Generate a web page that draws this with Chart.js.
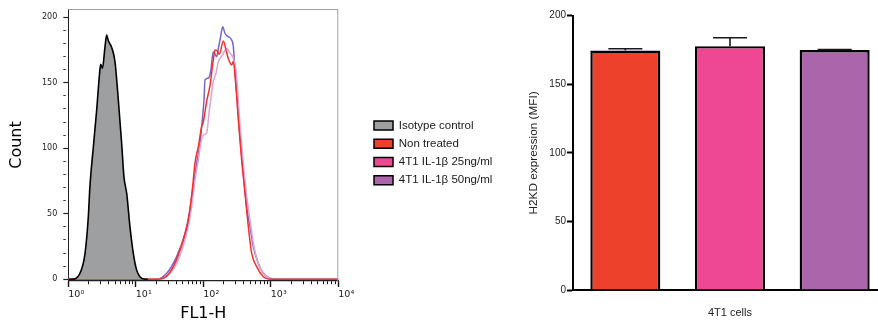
<!DOCTYPE html>
<html><head><meta charset="utf-8">
<script src="https://cdn.jsdelivr.net/npm/chart.js@4.4.1/dist/chart.umd.min.js"></script>
<style>
html,body{margin:0;padding:0;background:#fff;overflow:hidden;width:878px;height:326px;}
#h{position:absolute;left:0;top:0;width:360px;height:326px;}
#b{position:absolute;left:360px;top:0;width:527px;height:326px;}
</style></head><body>
<div id="h"><canvas id="c1" width="360" height="326"></canvas></div>
<div id="b"><canvas id="c2" width="527" height="326"></canvas></div>
<script>
// ---------- Histogram data (FL1-H value, count) ----------
const isoX = [1.0, 1.12, 1.49, 1.77, 1.98, 2.09, 2.35, 2.63, 2.88, 3.02, 3.2, 3.5, 3.7, 3.92, 4.39, 4.92, 5.51, 6.17, 6.68, 7.33, 8.2, 9.18, 10.3, 11.5, 13.7, 15];
const isoY = [0, 0, 4.6, 19.8, 47.8, 70.7, 101, 129, 154.7, 164, 161, 177.6, 186.5, 182, 177, 166, 136.8, 103.8, 78, 65.6, 40, 19.8, 7, 2, 0, 0];

const ntX = [1, 20, 25.6, 36.0, 50.6, 60.0, 69.5, 75.3, 84.4, 94.6, 100, 112, 125.7, 140.7, 149, 160, 172.7, 198, 216.8, 234, 263, 278.6, 301.3, 330.4, 369.8, 414.9, 464.5, 520.0, 616.6, 774.5, 972.6, 10000];
const ntY = [0, 0, 0.8, 9.7, 30.0, 45.3, 70.8, 88.6, 101.3, 116.6, 120, 135.6, 148, 167.5, 175, 174.6, 171.7, 181.9, 175.1, 168.7, 163.6, 166.2, 149.6, 121.7, 91.1, 65.7, 40.2, 19.9, 9.7, 2.0, 0, 0];

const x25 = [1, 20, 25.6, 40.3, 56.6, 67.3, 75.3, 84.4, 89, 100, 112, 122.8, 126, 140.7, 154.2, 167, 193.6, 222, 248.5, 278.6, 311.9, 342.0, 382.8, 428.5, 492.0, 563.6, 676.1, 869.0, 1089, 10000];
const y25 = [0, 0, 0.8, 12.2, 35.1, 55.5, 75.8, 91.1, 100, 110, 111.5, 129.3, 133, 151, 157.3, 166, 171.3, 176.3, 172.6, 168.7, 154.7, 124.2, 93.7, 68.2, 45.3, 24.9, 9.7, 2.0, 0, 0];

const x50 = [1, 20.4, 28.7, 40.3, 53.6, 63.5, 71.2, 79.8, 89.4, 94.6, 102.4, 106, 118.6, 128.5, 140.7, 158, 167.0, 180.7, 193.8, 209, 234, 263, 278.6, 295, 319.2, 349.9, 391.7, 438.5, 492.0, 550.8, 653.1, 774.5, 972.6, 1222, 10000];
const y50 = [0, 0, 4.6, 17.3, 35.1, 52.9, 70.8, 88.6, 103.8, 116.6, 136.9, 152.2, 153.5, 158.6, 173.7, 170, 176, 185.3, 192.8, 187.8, 185.2, 182.7, 177.6, 158.5, 136.9, 108.9, 80.9, 55.5, 40.2, 24.9, 12.2, 4.6, 0.8, 0, 0];

const histSeries = ['Isotype control', 'Non treated', '4T1 IL-1β 25ng/ml', '4T1 IL-1β 50ng/ml'];
const xDecades = [1, 10, 100, 1000, 10000];
const xTickLabels = ['10⁰', '10¹', '10²', '10³', '10⁴'];
const xMinorSteps = [1, 2, 3, 4, 5, 6, 7, 8, 9];
const yMajorTicks = [0, 50, 100, 150, 200];
const yMinorStep = 10;

// ---------- Bar chart data ----------
const barCategories = ['4T1 cells'];
const barSeries = ['Non treated', '4T1 IL-1β 25ng/ml', '4T1 IL-1β 50ng/ml'];
const barValues = [174.6, 177.8, 174.9];
const barErrors = [1.3, 6.1, 0.5];
const barTicks = [0, 50, 100, 150, 200];

// ---------- styles ----------
const lineColors = ['#000000', '#f2312b', '#e2a2d6', '#7b63c4'];
const legendColors = ['#9d9fa0', '#ee412b', '#ee4894', '#ab66ab'];
const barColors = ['#ee412b', '#ee4894', '#ab66ab'];

const zeroPad = s => { s.paddingLeft = 0; s.paddingRight = 0; s.paddingTop = 0; s.paddingBottom = 0; };
const pts = (xs, ys) => xs.map((x, i) => ({x: x, y: ys[i]}));

const xTickValues = [];
xDecades.forEach((d, i) => {
  if (i === xDecades.length - 1) { xTickValues.push(d); return; }
  xMinorSteps.forEach(m => xTickValues.push(d * m));
});
const yTickValues = [];
for (let v = 0; v <= 200; v += yMinorStep) yTickValues.push(v);

const frame = {
  id: 'frame',
  afterDraw(chart) {
    const {ctx, chartArea: a} = chart;
    ctx.save();
    ctx.strokeStyle = '#a0a0a0';
    ctx.lineWidth = 1;
    ctx.beginPath();
    ctx.moveTo(a.left, a.top + 0.5);
    ctx.lineTo(a.right - 0.5, a.top + 0.5);
    ctx.lineTo(a.right - 0.5, a.bottom);
    ctx.stroke();
    ctx.restore();
  }
};

const lineDs = (label, data, color, extra) => Object.assign({
  label: label, data: data, borderColor: color, borderWidth: 1.5,
  pointRadius: 0, fill: false, cubicInterpolationMode: 'monotone'
}, extra || {});

new Chart(document.getElementById('c1'), {
  type: 'line',
  data: {
    datasets: [
      lineDs(histSeries[0], pts(isoX, isoY), lineColors[0], {backgroundColor: '#9d9fa0', fill: 'origin', borderWidth: 1.6}),
      lineDs(histSeries[1], pts(ntX, ntY), lineColors[1]),
      lineDs(histSeries[2], pts(x25, y25), lineColors[2]),
      lineDs(histSeries[3], pts(x50, y50), lineColors[3])
    ]
  },
  options: {
    responsive: false, animation: false, events: [],
    layout: {padding: {left: 0, top: 9, right: 21.7, bottom: 0}},
    plugins: {legend: {display: false}, tooltip: {enabled: false}},
    scales: {
      x: {
        type: 'logarithmic', min: 1, max: 10000, position: 'bottom',
        afterBuildTicks: s => { s.ticks = xTickValues.map(v => ({value: v, major: xDecades.includes(v)})); },
        afterFit: s => { s.height = 45; zeroPad(s); },
        ticks: {
          autoSkip: false, maxRotation: 0, minRotation: 0, padding: 2, color: '#222', align: 'start',
          font: {family: 'DejaVu Sans', size: 9.5},
          callback: v => { const i = xDecades.indexOf(v); return i >= 0 ? xTickLabels[i] : ''; }
        },
        grid: {
          drawOnChartArea: false, drawTicks: true, tickLength: 6, tickColor: '#111',
          tickWidth: c => (c.tick && xDecades.includes(c.tick.value)) ? 1.4 : 1,
          tickBorderDash: c => (c.tick && (xDecades.includes(c.tick.value))) ? [] : [3, 20]
        },
        border: {color: '#222', width: 1.2},
        title: {display: true, text: 'FL1-H', color: '#000', font: {family: 'DejaVu Sans', size: 16}, padding: {top: 0, bottom: 3}}
      },
      y: {
        type: 'linear', min: -1.3, max: 206.3,
        afterBuildTicks: s => { s.ticks = yTickValues.map(v => ({value: v})); },
        afterFit: s => { s.width = 68.3; zeroPad(s); },
        ticks: {
          autoSkip: false, padding: 6, color: '#222',
          font: {family: 'DejaVu Sans', size: 8},
          callback: v => yMajorTicks.includes(v) ? String(v) : ''
        },
        grid: {
          drawOnChartArea: false, drawTicks: true, tickLength: 5, tickColor: '#222',
          tickWidth: c => (c.tick && yMajorTicks.includes(c.tick.value)) ? 1.2 : 0.9,
          tickBorderDash: c => (c.tick && yMajorTicks.includes(c.tick.value)) ? [] : [2.5, 20]
        },
        border: {color: '#222', width: 1},
        title: {display: true, text: 'Count', color: '#000', font: {family: 'DejaVu Sans', size: 16}, padding: {top: 7, bottom: 0}}
      }
    }
  },
  plugins: [frame]
});

const errBars = {
  id: 'errBars',
  afterDatasetsDraw(chart) {
    const y = chart.scales.y, ctx = chart.ctx;
    ctx.save();
    ctx.strokeStyle = '#1a1a1a';
    ctx.lineWidth = 1.6;
    chart.data.datasets.forEach((ds, i) => {
      chart.getDatasetMeta(i).data.forEach((bar, j) => {
        const top = y.getPixelForValue(ds.data[j] + barErrors[i]);
        const half = bar.width * 0.243;
        ctx.beginPath();
        ctx.moveTo(bar.x, bar.y);
        ctx.lineTo(bar.x, top);
        ctx.moveTo(bar.x - half, top);
        ctx.lineTo(bar.x + half, top);
        ctx.stroke();
      });
    });
    ctx.restore();
  }
};

const BAR_AREA_LEFT = 213;
const BAR_PAD_LEFT = 7.3;

new Chart(document.getElementById('c2'), {
  type: 'bar',
  data: {
    labels: barCategories,
    datasets: barSeries.map((name, i) => ({
      label: name, data: [barValues[i]], backgroundColor: barColors[i],
      borderColor: '#000', borderWidth: 2.4, borderSkipped: 'start',
      categoryPercentage: 1.0, barPercentage: 0.669
    }))
  },
  options: {
    responsive: false, animation: false, events: [],
    layout: {padding: {left: BAR_PAD_LEFT, top: 15.7, right: 0, bottom: 0}},
    plugins: {
      tooltip: {enabled: false},
      legend: {
        position: 'left', fullSize: false, align: 'center', onClick: null,
        labels: {
          boxWidth: 19, boxHeight: 9, padding: 6.7, color: '#1a1a1a',
          font: {family: 'Liberation Sans', size: 11.5},
          generateLabels: () => histSeries.map((t, i) => ({
            text: t, fillStyle: legendColors[i], strokeStyle: '#000', lineWidth: 1.5,
            hidden: false, index: i, fontColor: '#1a1a1a'
          }))
        }
      }
    },
    scales: {
      x: {
        afterFit: s => { s.height = 36; zeroPad(s); },
        grid: {display: false, drawTicks: false},
        border: {color: '#000', width: 2},
        ticks: {padding: 16, color: '#222', font: {family: 'Liberation Sans', size: 11}}
      },
      y: {
        min: 0, max: 200,
        afterBuildTicks: s => { s.ticks = barTicks.map(v => ({value: v})); },
        afterFit: s => {
          const lg = s.chart.legend;
          const lw = (lg && lg.width) ? lg.width : 120;
          s.width = BAR_AREA_LEFT - BAR_PAD_LEFT - lw;
          zeroPad(s);
        },
        ticks: {padding: 1, color: '#222', font: {family: 'Liberation Sans', size: 10}},
        grid: {drawOnChartArea: false, drawTicks: true, tickLength: 6, tickColor: '#000', tickWidth: 2},
        border: {color: '#000', width: 2},
        title: {display: true, text: 'H2KD expression (MFI)', color: '#222', font: {family: 'Liberation Sans', size: 11.8}, padding: {top: 29, bottom: 0}}
      }
    }
  },
  plugins: [errBars]
});
</script>
</body></html>
